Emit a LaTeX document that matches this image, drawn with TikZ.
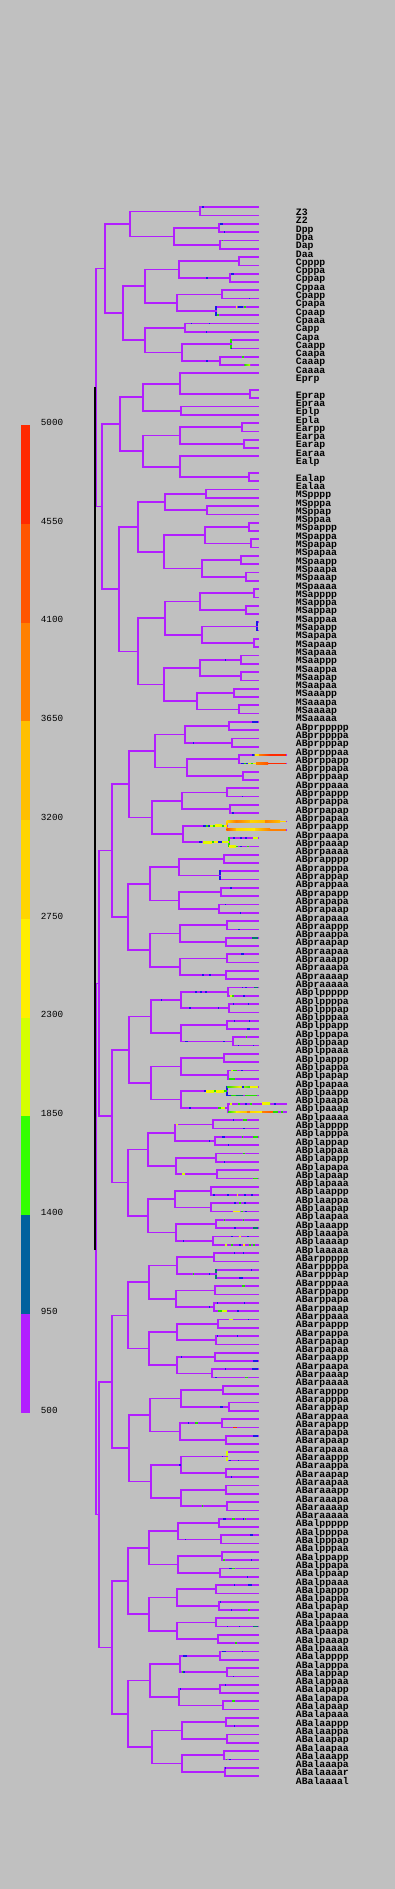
\documentclass[tikz,border=0pt]{standalone}
\usepackage{fontspec}
\newfontfamily\trfont{Liberation Mono}
\usetikzlibrary{calc}
\definecolor{bgc}{HTML}{C0C0C0}
\definecolor{pur}{HTML}{B21EFF}
\definecolor{c1}{HTML}{B21EFF}
\definecolor{c2}{HTML}{00619E}
\definecolor{c3}{HTML}{33FF00}
\definecolor{c4}{HTML}{D4FF00}
\definecolor{c5}{HTML}{FFEE00}
\definecolor{c6}{HTML}{FFD500}
\definecolor{c7}{HTML}{FFBF00}
\definecolor{c8}{HTML}{FF8000}
\definecolor{c9}{HTML}{FF5500}
\definecolor{c10}{HTML}{FF2A00}
\definecolor{tb}{HTML}{1A1AE6}
\definecolor{tg}{HTML}{22E000}
\definecolor{teal}{HTML}{007A70}
\newcount\trslot
\newcommand\trleaf[2]{\coordinate (#1) at (258,{207.3+(#2-1)*8.3});
  \node[lab] (t#1) at (295.5,{215.5+(#2-1)*8.3}) {#1};}
\newcommand\trnode[5][pur]{\coordinate (tmp) at ($(#4)!.5!(#5)$);
  \coordinate (#2) at (#3,0 |- tmp);
  \draw[br] (#4) -| (#2) |- (#5);
  \draw[br,draw=#1] (#4 -| #2) -- (#5 -| #2);}
\newcommand\trbin[3][pur]{\trnode[#1]{#2}{#3}{#2p}{#2a}}
\newcommand\trtk[3]{\fill[#3] ({#2-0.75},0 |- #1) ++(0,-0.85) rectangle ++(1.5,1.7);}
\newcommand\trsg[4]{\fill[#4] ({#2},0 |- #1) ++(0,-0.85) rectangle ++({(#3)-(#2)},1.7);}
\newcommand\trsgg[5]{\shade[left color=#4,right color=#5] ({#2},0 |- #1) ++(0,-0.85) rectangle ++({(#3)-(#2)},1.7);}
\begin{document}
\begin{tikzpicture}[x=0.5pt,y=-0.5pt,
  br/.style={draw=pur,line width=0.85pt,line cap=rect},
  lab/.style={font=\trfont\bfseries\fontsize{4.9pt}{5pt}\selectfont,inner sep=0pt,anchor=base west,text=black},
  leg/.style={font=\trfont\fontsize{4.65pt}{5pt}\selectfont,inner sep=0pt,anchor=west,text=black}]
\useasboundingbox (0,0) rectangle (395,1889);
\fill[bgc] (0,0) rectangle (395,1889);
% legend
\foreach \i/\c in {0/c1,1/c2,2/c3,3/c4,4/c5,5/c6,6/c7,7/c8,8/c9,9/c10}
  \fill[\c] (21,{1412.7-\i*98.77}) rectangle (30,{1412.7-(\i+1)*98.77});
\foreach \k/\v in {0/500,1/950,2/1400,3/1850,4/2300,5/2750,6/3200,7/3650,8/4100,9/4550,10/5000}
  \node[leg] (v\v) at (40.5,{1412.7-\k*98.77-2.7}) {\v};
% leaves
\foreach \n/\s in {Z3/1,Z2/2,Dpp/3,Dpa/4,Dap/5,Daa/6,Cpppp/7,Cpppa/8,Cppap/9,Cppaa/10,Cpapp/11,Cpapa/12,Cpaap/13,Cpaaa/14,Capp/15,Capa/16,Caapp/17,Caapa/18,Caaap/19,Caaaa/20,Eprp/21,Eprap/23,Epraa/24,Eplp/25,Epla/26,Earpp/27,Earpa/28,Earap/29,Earaa/30,Ealp/31,Ealap/33,Ealaa/34,MSpppp/35,MSpppa/36,MSppap/37,MSppaa/38,MSpappp/39,MSpappa/40,MSpapap/41,MSpapaa/42,MSpaapp/43,MSpaapa/44,MSpaaap/45,MSpaaaa/46,MSapppp/47,MSapppa/48,MSappap/49,MSappaa/50,MSapapp/51,MSapapa/52,MSapaap/53,MSapaaa/54,MSaappp/55,MSaappa/56,MSaapap/57,MSaapaa/58,MSaaapp/59,MSaaapa/60,MSaaaap/61,MSaaaaa/62}
  {\trleaf{\n}{\s}}
\global\trslot=62
\foreach \vq in {pr,pl,ar,al}{\foreach \va in {p,a}{\foreach \vb in {p,a}{\foreach \vc in {p,a}{\foreach \vd in {p,a}{\foreach \ve in {p,a}{%
  \global\advance\trslot by 1
  \ifnum\trslot=189 \trleaf{ABalaaaar}{189}\else\ifnum\trslot=190 \trleaf{ABalaaaal}{190}\else\trleaf{AB\vq\va\vb\vc\vd\ve}{\the\trslot}\fi\fi
}}}}}}
% P2 side
\trnode{P4}{199.7}{Z3}{Z2}
\trbin{Dp}{219}\trbin{Da}{220}\trbin{D}{174}
\trnode{P3}{130}{P4}{D}
\trbin{Cppp}{239}\trbin{Cppa}{230}\trbin{Cpp}{179}
\trbin{Cpap}{221.7}\trbin[tb]{Cpaa}{215.7}\trbin{Cpa}{176.7}\trbin{Cp}{144.7}
\trbin{Cap}{184.7}\trbin[tg]{Caap}{230.7}\trbin{Caaa}{219.7}\trbin{Caa}{181.7}\trbin{Ca}{144.7}
\trbin{C}{122.7}
\trnode{P2}{105.3}{P3}{C}
% E
\trbin{Epra}{250}\trbin{Epr}{180}\trbin{Epl}{180.7}
\trnode{Ep}{142.7}{Epr}{Epl}
\trbin{Earp}{242}\trbin{Eara}{243.7}\trbin{Ear}{180}
\trbin{Eala}{249}\trbin{Eal}{180}
\trnode{Ea}{142.7}{Ear}{Eal}
\trbin{E}{119.7}
% MS
\trbin{MSppp}{205.7}\trbin{MSppa}{206.7}\trbin{MSpp}{165}
\trbin{MSpapp}{249}\trbin{MSpapa}{250.7}\trbin{MSpap}{204.7}
\trbin{MSpaap}{240.7}\trbin{MSpaaa}{245.7}\trbin{MSpaa}{202}
\trbin{MSpa}{163.7}\trbin{MSp}{138}
\trbin{MSappp}{254}\trbin{MSappa}{245.7}\trbin{MSapp}{199.7}
\trbin[tb]{MSapap}{256.7}\trbin{MSapaa}{254}\trbin{MSapa}{202}\trbin{MSap}{165}
\trbin{MSaapp}{240.7}\trbin{MSaapa}{240.7}\trbin{MSaap}{199.7}
\trbin{MSaaap}{234}\trbin{MSaaaa}{238.7}\trbin{MSaaa}{196.7}
\trbin{MSaa}{163.7}\trbin{MSa}{138}\trbin{MS}{119.3}
\trnode{EMS}{101.7}{E}{MS}
\trnode{P1}{96.3}{P2}{EMS}
% ABpr
\trbin{ABprpppp}{228.7}\trbin{ABprpppa}{231.7}\trbin{ABprppp}{184.7}
\trbin{ABprppap}{238.7}\trbin{ABprppaa}{242.7}\trbin{ABprppa}{186.7}\trbin{ABprpp}{154.7}
\trbin{ABprpapp}{226.7}\trbin{ABprpapa}{229.7}\trbin{ABprpap}{181.7}
\trbin[c7]{ABprpaap}{226.7}\trbin[tg]{ABprpaaa}{228.7}\trbin{ABprpaa}{182.7}\trbin{ABprpa}{151.7}\trbin{ABprp}{128.7}
\trbin{ABprappp}{223.7}\trbin[tb]{ABprappa}{219.7}\trbin{ABprapp}{178.7}
\trbin{ABprapap}{220.7}\trbin{ABprapaa}{218.7}\trbin{ABprapa}{178.7}\trbin{ABprap}{149.7}
\trbin{ABpraapp}{226.7}\trbin{ABpraapa}{225.7}\trbin{ABpraap}{179.7}
\trbin{ABpraaap}{226.7}\trbin{ABpraaaa}{225.7}\trbin{ABpraaa}{179.7}\trbin{ABpraa}{149.7}\trbin{ABpra}{127.7}
\trbin{ABpr}{111.7}
% ABpl
\trbin{ABplpppp}{227.7}\trbin{ABplpppa}{228.7}\trbin{ABplppp}{180.7}
\trbin{ABplppap}{226.7}\trbin{ABplppaa}{232.7}\trbin{ABplppa}{180.7}\trbin{ABplpp}{150.7}
\trbin{ABplpapp}{223.7}\trbin{ABplpapa}{227.7}\trbin{ABplpap}{180.7}
\trbin[tb]{ABplpaap}{226.7}\trbin{ABplpaaa}{227.7}\trbin{ABplpaa}{180.7}\trbin{ABplpa}{150.7}\trbin{ABplp}{129}
\trbin{ABplappp}{212.7}\trbin{ABplappa}{214.7}\trbin{ABplapp}{174.7}
\trbin{ABplapap}{215.7}\trbin{ABplapaa}{216.7}\trbin{ABplapa}{175.7}\trbin{ABplap}{147.7}
\trbin{ABplaapp}{210.7}\trbin{ABplaapa}{210.7}\trbin{ABplaap}{174.7}
\trbin{ABplaaap}{215.7}\trbin{ABplaaaa}{212.7}\trbin{ABplaaa}{175.7}\trbin{ABplaa}{147.7}\trbin{ABpla}{127.7}
\trbin{ABpl}{111.7}
\trnode{ABp}{99}{ABpr}{ABpl}
% ABar
\trbin{ABarpppp}{213.7}\trbin[teal]{ABarpppa}{215.7}\trbin{ABarppp}{176.7}
\trbin{ABarppap}{214.7}\trbin{ABarppaa}{213.7}\trbin{ABarppa}{175.7}\trbin{ABarpp}{148.7}
\trbin{ABarpapp}{217.7}\trbin{ABarpapa}{215.7}\trbin{ABarpap}{176.7}
\trbin{ABarpaap}{214.7}\trbin{ABarpaaa}{211.7}\trbin{ABarpaa}{176.7}\trbin{ABarpa}{148.7}\trbin{ABarp}{128}
\trbin{ABarappp}{222.7}\trbin{ABarappa}{228.7}\trbin{ABarapp}{180.7}
\trbin{ABarapap}{221.7}\trbin{ABarapaa}{225.7}\trbin{ABarapa}{179.7}\trbin{ABarap}{149.7}
\trbin[c4]{ABaraapp}{226.7}\trbin{ABaraapa}{225.7}\trbin{ABaraap}{180.7}
\trbin{ABaraaap}{225.7}\trbin{ABaraaaa}{226.7}\trbin{ABaraaa}{180.7}\trbin{ABaraa}{150.7}\trbin{ABara}{129}
\trbin{ABar}{111.7}
% ABal
\trbin{ABalpppp}{218.7}\trbin{ABalpppa}{220.7}\trbin{ABalppp}{177.7}
\trbin{ABalppap}{221.7}\trbin{ABalppaa}{219.7}\trbin{ABalppa}{177.7}\trbin{ABalpp}{148.7}
\trbin{ABalpapp}{215.7}\trbin{ABalpapa}{218.7}\trbin{ABalpap}{176.7}
\trbin{ABalpaap}{215.7}\trbin{ABalpaaa}{217.7}\trbin{ABalpaa}{176.7}\trbin{ABalpa}{148.7}\trbin{ABalp}{128}
\trbin{ABalappp}{219.7}\trbin{ABalappa}{226.7}\trbin{ABalapp}{179.7}
\trbin{ABalapap}{219.7}\trbin{ABalapaa}{222.7}\trbin{ABalapa}{178.7}\trbin{ABalap}{149.7}
\trbin{ABalaapp}{225.7}\trbin{ABalaapa}{226.7}\trbin{ABalaap}{181.7}
\trbin{ABalaaap}{223.7}\trnode{ABalaaaa}{224.7}{ABalaaaar}{ABalaaaal}\trbin{ABalaaa}{181.7}\trbin{ABalaa}{151.7}\trbin{ABala}{128}
\trbin{ABal}{111.7}
\trnode{ABa}{99}{ABar}{ABal}
\trbin{AB}{96.3}
% root
\coordinate (tmp) at ($(P1)!.5!(AB)$);
\coordinate (P0) at (94.8,0 |- tmp);
\draw[br,draw=black] (P1 -| P0) -- (AB -| P0);
% long leaves
\foreach \n in {ABprppapp,ABprppapa,ABprpaapp,ABprpaapa,ABplpaaap,ABplpaaaa}
  \draw[br] (\n) -- ++(27.7,0);
% strong colour runs
\trsg{ABprppapp}{252.3}{254.5}{tb}\trsgg{ABprppapp}{254.5}{259}{c5}{c6}\trsgg{ABprppapp}{259}{270}{c8}{c10}\trsg{ABprppapp}{270}{286}{c10}
\trsg{ABprppapa}{241}{244}{tb}\trsg{ABprppapa}{244}{246}{tg}\trsg{ABprppapa}{246}{248}{tb}\trsg{ABprppapa}{248}{251}{c4}\trsg{ABprppapa}{251}{253}{tg}\trsg{ABprppapa}{253}{256}{c5}\trsgg{ABprppapa}{256}{268}{c8}{c9}\trsg{ABprppapa}{268}{286}{c10}
\trsgg{ABprpaapp}{226.7}{236}{c6}{c8}\trsgg{ABprpaapp}{236}{250}{c8}{c7}\trsgg{ABprpaapp}{250}{265}{c6}{c7}\trsgg{ABprpaapp}{265}{280}{c8}{c7}\trsg{ABprpaapp}{280}{286}{c6}
\trsgg{ABprpaapa}{226.7}{236}{c9}{c7}\trsgg{ABprpaapa}{236}{255}{c6}{c5}\trsgg{ABprpaapa}{255}{270}{c6}{c8}\trsg{ABprpaapa}{270}{286}{c8}
\trsg{ABprpaap}{203}{206}{tb}\trsg{ABprpaap}{206}{208}{tg}\trsg{ABprpaap}{208}{210}{tb}\trsg{ABprpaap}{210}{213}{c4}\trsg{ABprpaap}{213}{215}{tg}\trsgg{ABprpaap}{215}{222}{c5}{c4}\trsg{ABprpaap}{222}{224}{tg}\trsg{ABprpaap}{224}{226.7}{c5}
\trsg{ABprpaaa}{199}{202}{tb}\trsgg{ABprpaaa}{203}{212}{c4}{c5}\trsg{ABprpaaa}{212}{214}{tg}\trsg{ABprpaaa}{214}{218}{c5}\trsg{ABprpaaa}{218}{222}{tb}\trsg{ABprpaaa}{222}{228.7}{c4}
\trtk{ABprpaaap}{234}{tb}\trtk{ABprpaaap}{241}{tb}\trtk{ABprpaaap}{246}{tb}\trsg{ABprpaaap}{253}{258}{c4}
\trsgg{ABprpaaaa}{229}{236}{c5}{c4}\trsg{ABprpaaaa}{236}{238}{tg}\trtk{ABprpaaaa}{241}{tb}\trtk{ABprpaaaa}{248}{tg}
\trsg{ABplpaap}{204}{206}{tb}\trsgg{ABplpaap}{206}{214}{c5}{c4}\trsg{ABplpaap}{214}{216}{tg}\trsgg{ABplpaap}{216}{224}{c5}{c4}\trsg{ABplpaap}{224}{226.7}{tg}
\trsgg{ABplpaapp}{227}{240}{tg}{c5}\trsgg{ABplpaapp}{240}{250}{c4}{tg}\trsgg{ABplpaapp}{250}{258}{c5}{c4}\trtk{ABplpaapp}{243}{tb}
\trsg{ABplpaapa}{227}{231}{tb}\trsg{ABplpaapa}{231}{236}{tg}\trsg{ABplpaapa}{236}{243}{teal}\trsg{ABplpaapa}{245}{257}{tg}
\trtk{ABplpaaap}{231}{c4}\trtk{ABplpaaap}{239}{tg}\trtk{ABplpaaap}{246}{tb}\trtk{ABplpaaap}{251}{tg}\trsgg{ABplpaaap}{262}{270}{c5}{c4}\trtk{ABplpaaap}{275}{tb}
\trsgg{ABplpaaaa}{228}{236}{tg}{c4}\trsgg{ABplpaaaa}{236}{247}{c5}{c7}\trsg{ABplpaaaa}{247}{250}{c8}\trsgg{ABplpaaaa}{250}{262}{c6}{c5}\trsgg{ABplpaaaa}{262}{273}{c8}{c9}\trsg{ABplpaaaa}{273}{278}{tg}\trtk{ABplpaaaa}{282}{tg}
\trsg{ABplpaaa}{218}{221}{tg}\trsg{ABplpaaa}{221}{225}{c4}\trtk{ABplpaaa}{190}{tb}
\trsg{ABarapapa}{233.3}{237.3}{c10}
% small ticks
\trtk{Z3}{203}{tb}\trsg{Dpp}{220}{223}{tb}\trtk{Dpa}{224.3}{tb}\trsg{Dap}{221.5}{223}{tg}
\trsg{Cppap}{231}{234}{tb}\trtk{Cppa}{207}{tb}\trtk{Cpapa}{249.3}{tb}
\trtk{Cpaap}{236.5}{c5}\trsg{Cpaap}{238}{243}{tb}\trsg{Cpaap}{244}{246}{tg}\trsg{Cpaaa}{217}{219}{tg}
\trtk{Capp}{191.3}{tb}\trtk{Capp}{209.3}{tb}\trtk{Capa}{206.3}{tb}\trtk{Caapa}{231.7}{tb}
\trsg{Caaa}{205.7}{207.7}{tb}\trsg{Caaap}{242.3}{244.3}{tg}\trsgg{Caaaa}{244.3}{250}{tg}{c4}
\trtk{MSaapp}{225.7}{tb}
\trsg{ABprppppp}{252}{258}{tb}\trtk{ABprpppa}{193.3}{tb}\trtk{ABprpappa}{242.3}{tb}\trsg{ABprpapaa}{231.7}{234.3}{tb}
\trsg{ABprapapp}{230}{232.3}{tb}\trtk{ABprapaap}{225.7}{tb}\trtk{ABprapaaa}{240.7}{tb}\trsg{ABpraappa}{237.7}{239.7}{tb}
\trsg{ABpraapap}{251.7}{258}{teal}\trsg{ABpraaapp}{240.7}{244}{tb}\trtk{ABpraaaa}{203}{tb}\trtk{ABpraaaa}{210}{tb}
\trsg{ABplppppp}{253.7}{258}{teal}\trtk{ABplppppp}{242.3}{tb}\trtk{ABplppppp}{246}{tb}
\trtk{ABplpppp}{196}{tb}\trtk{ABplpppp}{201}{tb}\trtk{ABplpppp}{206}{tb}
\trsg{ABplppppa}{230}{232}{c4}\trsg{ABplppppa}{232}{234}{tg}\trtk{ABplppppa}{244}{tb}
\trtk{ABplppp}{161.7}{tb}\trtk{ABplpppap}{233.3}{tb}\trtk{ABplpppap}{248.3}{tb}\trtk{ABplpppa}{190}{tb}\trtk{ABplpppa}{218.3}{tb}
\trtk{ABplppapp}{234.3}{tb}\trtk{ABplppapp}{249.3}{tb}\trsg{ABplppapa}{246.7}{250}{tb}
\trsg{ABplppaa}{185}{188.3}{tb}\trtk{ABplppaa}{224}{tb}\trtk{ABplppaap}{246.7}{tg}\trtk{ABplppaaa}{238.3}{tb}\trtk{ABplppaaa}{253.3}{tb}
\trsg{ABplpapap}{230.7}{233}{c4}\trsg{ABplpapap}{233}{236.7}{tg}\trtk{ABplpapap}{242}{tb}\trsg{ABplpapaa}{228.7}{235}{tg}
\trsg{ABplappp}{175.5}{177.5}{c5}\trtk{ABplapppp}{233.3}{tb}\trsg{ABplapppp}{243.3}{246.7}{tg}\trtk{ABplapppa}{244}{tb}
\trtk{ABplappa}{209.3}{tb}\trsg{ABplappap}{221.7}{225}{tb}\trtk{ABplappap}{242.7}{tg}\trsg{ABplappap}{253.3}{258}{tg}\trtk{ABplappaa}{228.7}{tb}
\trsg{ABplapapp}{242.7}{245.3}{tg}\trtk{ABplapapa}{224.3}{tb}\trsg{ABplapaa}{181.7}{185}{c4}\trsg{ABplapaaa}{253}{258}{tg}
\trtk{ABplaappa}{214}{tb}\trtk{ABplaappa}{228}{tb}\trtk{ABplaappa}{237.7}{c5}\trtk{ABplaappa}{245}{tb}\trtk{ABplaappa}{252}{tb}
\trtk{ABplaapap}{235}{tb}\trtk{ABplaapap}{240}{tg}\trtk{ABplaapap}{245}{tb}
\trsg{ABplaapaa}{233.3}{240}{c5}\trtk{ABplaapaa}{242}{tg}\trtk{ABplaapaa}{246}{tb}
\trtk{ABplaaapp}{224.3}{tg}\trtk{ABplaaapp}{243.3}{tg}\trsg{ABplaaapa}{253.3}{258}{teal}\trtk{ABplaaapa}{235}{tb}
\trtk{ABplaaaa}{183.3}{tb}\trtk{ABplaaaap}{232}{tb}\trtk{ABplaaaap}{240}{c5}\trtk{ABplaaaap}{248}{tb}
\trtk{ABplaaaaa}{226}{c4}\trtk{ABplaaaaa}{232}{tg}\trtk{ABplaaaaa}{240}{tb}\trtk{ABplaaaaa}{244}{c5}\trtk{ABplaaaaa}{250}{tg}\trtk{ABplaaaaa}{254}{tg}
\trtk{ABarppppp}{234.3}{tb}\trtk{ABarppppp}{243.3}{tb}\trtk{ABarpppa}{193.3}{tg}\trtk{ABarpppa}{209.3}{tb}
\trtk{ABarpppap}{251.7}{tb}\trsg{ABarpppaa}{239.3}{243.3}{tb}\trsg{ABarppapp}{241.7}{245}{tg}\trtk{ABarppaa}{209.3}{tb}
\trtk{ABarppaap}{217.7}{tb}\trtk{ABarppaap}{244.3}{tb}\trsg{ABarppaaa}{218.3}{222}{tg}\trsg{ABarppaaa}{222}{226.7}{c4}\trtk{ABarppaaa}{238}{tb}
\trsg{ABarpappp}{229.3}{233.3}{c4}\trtk{ABarpappp}{248.3}{tb}\trtk{ABarpapap}{217.7}{tb}\trtk{ABarpapap}{237.3}{tb}
\trtk{ABarpaap}{181.7}{tb}\trsg{ABarpaapa}{253.3}{258}{tb}\trtk{ABarpaaap}{225.7}{tb}\trsg{ABarpaaap}{252}{258}{tb}
\trtk{ABarpaaaa}{216}{tb}\trsg{ABarpaaaa}{245}{247.7}{tg}\trsg{ABarappa}{220}{222.7}{tb}
\trtk{ABarapap}{188.3}{tb}\trsg{ABarapap}{195}{198.3}{tg}\trsg{ABarapaap}{253.3}{258}{tb}
\trtk{ABaraapp}{222.7}{tb}\trsg{ABaraappa}{228.7}{230.7}{tb}\trtk{ABaraappa}{238.3}{tb}\trsg{ABaraap}{178.5}{180.7}{tb}
\trtk{ABaraapaa}{231.7}{tb}\trtk{ABaraaaa}{202.3}{tg}
\trsg{ABalppppp}{223.3}{225.7}{tb}\trsg{ABalppppp}{231.7}{235}{tg}\trtk{ABalppppp}{243.3}{tb}\trtk{ABalppppp}{245.7}{tg}
\trtk{ABalpppa}{185.3}{tb}\trsg{ABalpppap}{250}{253.3}{tb}\trsg{ABalppapa}{222.7}{225}{tg}\trtk{ABalppapa}{251.7}{tb}
\trsg{ABalppaap}{228.7}{232}{tb}\trsg{ABalppaap}{232}{235}{tg}\trtk{ABalppaaa}{247.3}{tb}
\trtk{ABalpappp}{234.3}{tb}\trsg{ABalpappp}{248.3}{251.7}{tb}\trtk{ABalpapap}{220.7}{tb}
\trtk{ABalpapaa}{231.7}{tb}\trsg{ABalpapaa}{247.7}{250}{tg}
\trtk{ABalpaapa}{227.7}{tb}\trtk{ABalpaapa}{239.3}{tb}\trsg{ABalpaapa}{253.3}{258}{teal}\trtk{ABalpaaaa}{236}{tg}
\trsg{ABalapppp}{221.7}{225.7}{tb}\trsg{ABalapppp}{241.7}{243.3}{tb}\trsg{ABalappp}{183.3}{187.3}{tb}
\trsg{ABalappa}{181.7}{183.2}{tg}\trsg{ABalappa}{183.2}{184.7}{tb}\trtk{ABalappaa}{233.3}{tb}
\trtk{ABalapapp}{225.7}{tb}\trtk{ABalapap}{180.7}{tb}\trsg{ABalapaap}{231.7}{235}{tg}
\trtk{ABalaappa}{234.3}{tb}\trsg{ABalaaapa}{225.7}{227}{tg}\trsg{ABalaaapa}{228.7}{230.7}{tb}\trtk{ABalaaaar}{225.7}{tb}
\end{tikzpicture}
\end{document}
